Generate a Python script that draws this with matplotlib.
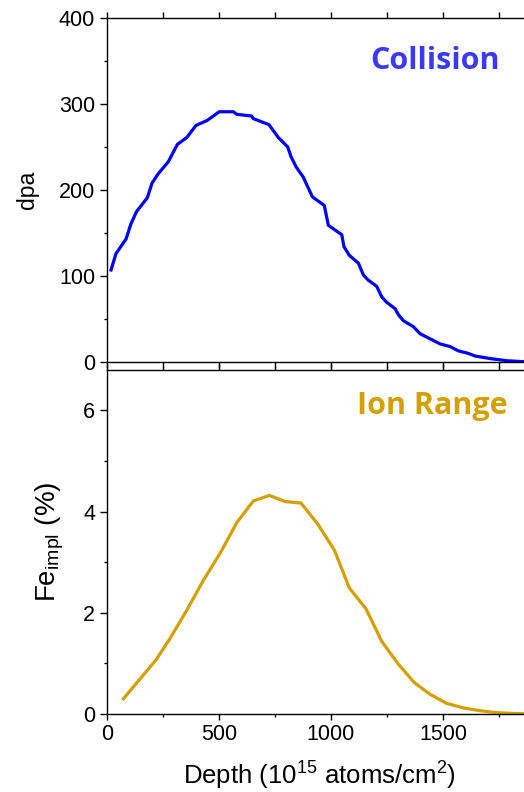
import matplotlib
matplotlib.use("Agg")
import matplotlib.pyplot as plt
from matplotlib.ticker import MultipleLocator, FixedLocator

# Collision (dpa) profile
dpa_depth = [18, 40, 85, 106, 132, 180, 201, 229, 274, 314, 356, 397, 448, 501, 564,
             579, 646, 653, 723, 765, 807, 821, 844, 876, 917, 970, 988, 1048, 1058,
             1082, 1122, 1145, 1167, 1204, 1226, 1246, 1286, 1301, 1323, 1368, 1397,
             1427, 1487, 1531, 1568, 1613, 1643, 1710, 1784, 1857, 1900]
dpa_vals = [107, 126, 143, 160, 175, 191, 208, 219, 233, 253, 261, 275, 281, 291, 291,
            288, 286, 283, 276, 261, 250, 239, 227, 215, 192, 182, 159, 148, 134,
            124, 115, 101, 95, 88, 76, 70, 62, 55, 48, 41, 33,
            29, 21, 18, 13, 10, 7, 4, 1.5, 0.4, 0.2]

# Ion range (Fe implanted %) profile
fe_depth = [73, 219, 281, 356, 430, 504, 579, 653, 725, 795, 866, 940, 1015, 1082,
            1156, 1226, 1298, 1372, 1442, 1516, 1591, 1665, 1740, 1815, 1890]
fe_vals = [0.30, 1.07, 1.49, 2.05, 2.64, 3.17, 3.78, 4.21, 4.32, 4.20, 4.17, 3.76,
           3.24, 2.49, 2.08, 1.44, 1.00, 0.62, 0.39, 0.21, 0.12, 0.065, 0.026, 0.01, 0.005]

x_ticks = [0, 500, 1000, 1500]

W, H = 524, 792
fig = plt.figure(figsize=(W / 100, H / 100), dpi=100)
plt.rcParams['font.family'] = ['Liberation Sans', 'DejaVu Sans']

left = 107 / W
width = (532.6 - 107) / W
ax1 = fig.add_axes([left, (H - 362) / H, width, (362 - 18) / H])
ax2 = fig.add_axes([left, (H - 714) / H, width, (714 - 370) / H])

blue = '#0000ff'
gold = '#d4a000'

ax1.plot(dpa_depth, dpa_vals, color=blue, lw=2.3)
ax2.plot(fe_depth, fe_vals, color=gold, lw=2.3)

for ax in (ax1, ax2):
    ax.set_xlim(0, 1900)
    ax.xaxis.set_major_locator(FixedLocator(x_ticks))
    ax.xaxis.set_minor_locator(MultipleLocator(250))
    ax.tick_params(axis='y', which='major', direction='out', length=5, width=1, labelsize=15.5)
    ax.tick_params(axis='y', which='minor', direction='out', length=2.5, width=1)
    for s in ax.spines.values():
        s.set_linewidth(1)

ax1.set_ylim(0, 400)
ax1.yaxis.set_major_locator(MultipleLocator(100))
ax1.yaxis.set_minor_locator(MultipleLocator(50))
ax1.tick_params(axis='x', which='both', top=True, bottom=True, direction='out',
                labelbottom=False, width=1)
ax1.tick_params(axis='x', which='major', length=4.5)
ax1.tick_params(axis='x', which='minor', length=4.5)
ax1.set_ylabel('dpa', fontsize=16.5, labelpad=14)
ax1.text(0.923, 0.92, 'Collision', transform=ax1.transAxes, color='#3a3af5',
         fontsize=22, fontweight='bold', family='Open Sans', ha='right', va='top')

ax2.set_ylim(0, 6.8)
ax2.yaxis.set_major_locator(MultipleLocator(2))
ax2.yaxis.set_minor_locator(MultipleLocator(1))
ax2.tick_params(axis='x', which='both', top=True, bottom=True, width=1, labelsize=15.5)
ax2.tick_params(axis='x', which='major', length=4, direction='out')
ax2.tick_params(axis='x', which='minor', length=2.5, direction='out')
ax2.set_ylabel(r'Fe$_{\mathregular{impl}}$ (%)', fontsize=20, labelpad=12)
ax2.set_xlabel(r'Depth (10$^{\mathregular{15}}$ atoms/cm$^{\mathregular{2}}$)', fontsize=18.5, labelpad=9)
ax2.text(0.942, 0.94, 'Ion Range', transform=ax2.transAxes, color=gold,
         fontsize=22, fontweight='bold', family='Open Sans', ha='right', va='top')

fig.savefig('out.png', dpi=100)
